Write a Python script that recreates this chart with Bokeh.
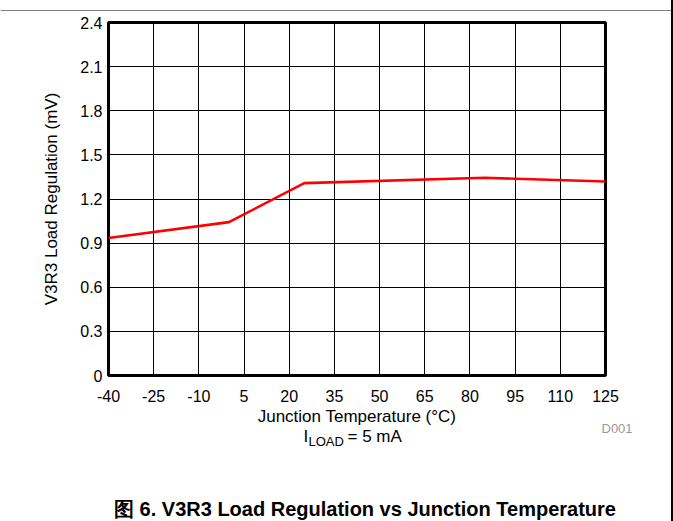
from bokeh.plotting import figure
from bokeh.layouts import column, row
from bokeh.models import Range1d, FixedTicker, NumeralTickFormatter, Label, Div
from bokeh.embed import file_html
from bokeh.resources import INLINE

# ---- data ----
temperature = [-40, 0, 25, 85, 125]
load_reg = [0.935, 1.043, 1.308, 1.344, 1.319]
x_ticks = [-40, -25, -10, 5, 20, 35, 50, 65, 80, 95, 110, 125]
y_ticks = [0, 0.3, 0.6, 0.9, 1.2, 1.5, 1.8, 2.1, 2.4]

FONT = "Liberation Sans"
PAGE_W, PAGE_H = 673, 521
STRIP = 2                    # right page rule
CW = PAGE_W - STRIP          # content width
HEAD_H = 11                  # header holding the top rule
CHART_H = 397                # chart figure (page y 11..408)
FOOT_H = PAGE_H - HEAD_H - CHART_H

# frame edges inside the chart figure (page frame: x 108..605, y 22..375)
L, R, T, B = 108, 605, 22 - HEAD_H, 375 - HEAD_H


def blank(w, h, fill="white"):
    f = figure(width=w, height=h, output_backend="svg", toolbar_location=None,
               x_range=Range1d(0, w), y_range=Range1d(h, 0),
               x_axis_type=None, y_axis_type=None,
               min_border=0, min_border_left=0, min_border_right=0,
               min_border_top=0, min_border_bottom=0, frame_align=False)
    f.outline_line_color = None
    f.background_fill_color = fill
    f.border_fill_color = fill
    f.xgrid.visible = False
    f.ygrid.visible = False
    return f


# ---- header: top rule ----
head = blank(CW, HEAD_H)
head.segment(x0=[0], y0=[9.8], x1=[CW], y1=[9.8], line_color="black",
             line_width=1.6)

# ---- chart ----
p = figure(width=CW, height=CHART_H, output_backend="svg",
           toolbar_location=None, frame_align=False,
           x_range=Range1d(-40, 125), y_range=Range1d(0, 2.4),
           min_border_left=L, min_border_right=CW - R,
           min_border_top=T, min_border_bottom=CHART_H - B)
p.background_fill_color = "white"
p.border_fill_color = "white"
p.outline_line_color = "black"
p.outline_line_width = 3

for ax in (p.xaxis[0], p.yaxis[0]):
    ax.axis_line_color = None
    ax.major_tick_line_color = None
    ax.minor_tick_line_color = None
    ax.major_tick_in = 0
    ax.major_tick_out = 0
    ax.major_label_text_font = FONT
    ax.major_label_text_font_size = "16px"
    ax.major_label_text_color = "black"
    ax.axis_label_text_font = FONT
    ax.axis_label_text_font_size = "17px"
    ax.axis_label_text_font_style = "normal"
    ax.axis_label_text_color = "black"

p.xaxis.ticker = FixedTicker(ticks=x_ticks)
p.yaxis.ticker = FixedTicker(ticks=y_ticks)
p.xaxis.formatter = NumeralTickFormatter(format="0")
p.yaxis.formatter = NumeralTickFormatter(format="0.[0]")
p.xaxis.major_label_standoff = 14
p.yaxis.major_label_standoff = 6
p.yaxis.axis_label = "V3R3 Load Regulation (mV)"
p.yaxis.axis_label_standoff = 16

p.grid.grid_line_color = "black"
p.grid.grid_line_width = 1
p.grid.grid_line_alpha = 1

p.line(temperature, load_reg, line_color="#ff0000", line_width=2.6)

# ---- footer: x title, condition, figure id, caption ----
foot = blank(CW, FOOT_H)
y_off = HEAD_H + CHART_H


def add_text(txt, px, baseline, size, color="black", style="normal",
             align="left"):
    # labels render ~0.33em below the requested alphabetic baseline
    foot.add_layout(Label(x=px, y=baseline - 0.33 * size - y_off, text=txt,
                          text_font=FONT, text_font_size=f"{size}px",
                          text_color=color, text_font_style=style,
                          text_align=align, text_baseline="alphabetic"))


add_text("Junction Temperature (°C)", 356.5, 421.5, 17, align="center")
add_text("I", 303, 442, 17)
add_text("LOAD", 308, 445, 13)
add_text("= 5 mA", 347, 442, 17)
add_text("D001", 601, 432, 13, color="#999999")
add_text("图 6. V3R3 Load Regulation vs Junction Temperature", 364.5, 515,
         20, style="bold", align="center")

# ---- right page rule ----
strip = Div(text="", width=STRIP, height=PAGE_H,
            styles={"background-color": "black", "margin": "0",
                    "padding": "0"})

layout = row(column(head, p, foot, spacing=0), strip, spacing=0)

open("out.html", "w").write(file_html(layout, INLINE))
